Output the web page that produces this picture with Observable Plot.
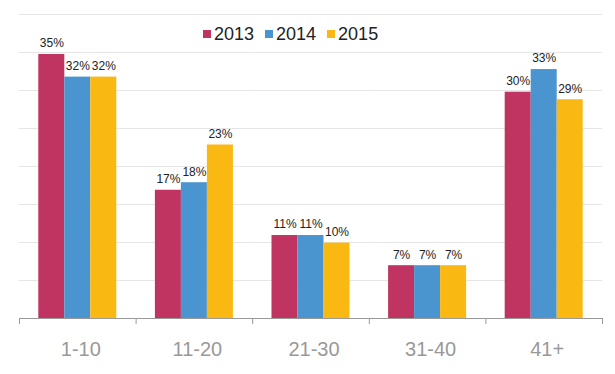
<!DOCTYPE html>
<html><head><meta charset="utf-8">
<script src="https://cdn.jsdelivr.net/npm/d3@7"></script>
<script src="https://cdn.jsdelivr.net/npm/@observablehq/plot@0.6"></script>
<style>
body{margin:0;background:#fff;font-family:Arial,"Liberation Sans",sans-serif}
#wrap{position:relative;width:615px;height:374px}
#legend{position:absolute;left:203px;top:25px;display:flex;align-items:center;font-size:18px;line-height:18px;color:#222}
.item{display:flex;align-items:center;margin-right:11px}
.sw{width:8px;height:8px;margin-right:3px}
</style></head><body><div id="wrap"><div id="legend"></div></div>
<script>
const categories = ["1-10", "11-20", "21-30", "31-40", "41+"];
const years = ["2013", "2014", "2015"];
const values2013 = [35, 17, 11, 7, 30];
const values2014 = [32, 18, 11, 7, 33];
const values2015 = [32, 23, 10, 7, 29];
const colors = ["#C03462", "#4A94D0", "#F9B912"];
const yMax = 40.3;
const gridTicks = d3.range(1, 9).map(i => i * yMax / 8);

const series = [values2013, values2014, values2015];
const data = categories.flatMap((c, i) => years.map((y, j) => ({category: c, year: y, value: series[j][i]})));

const halfStep = (615 - 19 - 13) / categories.length / 2;

const plot = Plot.plot({
  width: 615, height: 374,
  marginLeft: 19, marginRight: 13, marginTop: 14, marginBottom: 56,
  style: {fontFamily: "Arial, 'Liberation Sans', sans-serif", background: "#fff"},
  fx: {domain: categories, padding: 0, round: false, label: null},
  x: {domain: years, paddingInner: 0, paddingOuter: 0.742, round: false, axis: null},
  y: {domain: [0, yMax], axis: null},
  color: {domain: years, range: colors},
  marks: [
    Plot.ruleY(gridTicks, {stroke: "#e6e6e6", strokeWidth: 1}),
    Plot.barY(data, {fx: "category", x: "year", y: "value", fill: "year"}),
    Plot.text(data, {fx: "category", x: "year", y: "value", text: d => d.value + "%", dy: -11, fontSize: 12, fill: "#222"}),
    Plot.ruleY([0], {stroke: "#999"}),
    Plot.axisFx({anchor: "bottom", tickSize: 0, tickPadding: 23, fontSize: 20, fill: "#999", label: null, dx: 3}),
    Plot.axisFx({anchor: "bottom", tickSize: 6, tickFormat: () => "", stroke: "#999", label: null, dx: -halfStep}),
    Plot.axisFx({anchor: "bottom", ticks: ["41+"], tickSize: 6, tickFormat: () => "", stroke: "#999", label: null, dx: halfStep})
  ]
});
document.getElementById("wrap").appendChild(plot);

const legend = document.getElementById("legend");
years.forEach((y, i) => {
  const item = document.createElement("div");
  item.className = "item";
  const sw = document.createElement("span");
  sw.className = "sw";
  sw.style.background = colors[i];
  const t = document.createElement("span");
  t.textContent = y;
  item.appendChild(sw); item.appendChild(t);
  legend.appendChild(item);
});
legend.style.zIndex = 2;
</script></body></html>
